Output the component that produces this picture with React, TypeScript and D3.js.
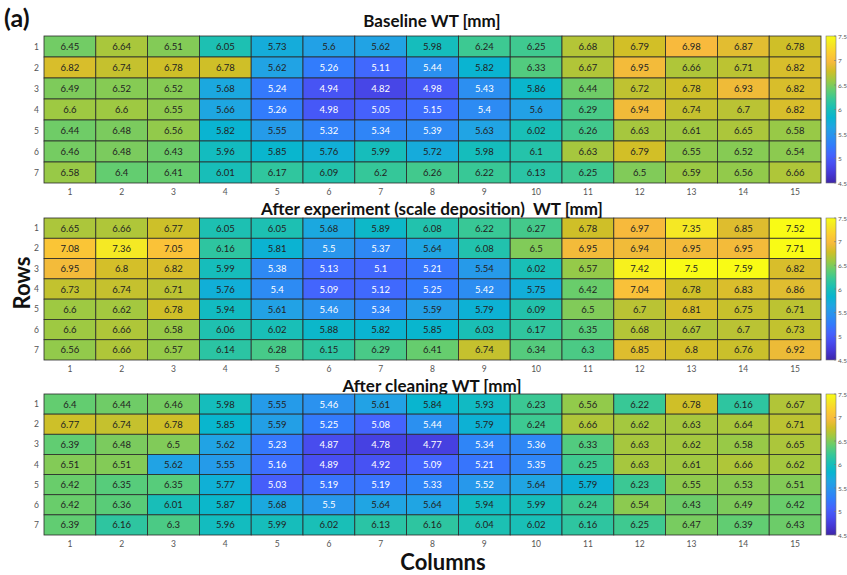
import React from "react";
import * as d3 from "d3";

const columns = d3.range(1, 16);
const rows = d3.range(1, 8);
const colorTicks = [7.5, 7, 6.5, 6, 5.5, 5, 4.5];

const baseline = [
  [6.45, 6.64, 6.51, 6.05, 5.73, 5.6, 5.62, 5.98, 6.24, 6.25, 6.68, 6.79, 6.98, 6.87, 6.78],
  [6.82, 6.74, 6.78, 6.78, 5.62, 5.26, 5.11, 5.44, 5.82, 6.33, 6.67, 6.95, 6.66, 6.71, 6.82],
  [6.49, 6.52, 6.52, 5.68, 5.24, 4.94, 4.82, 4.98, 5.43, 5.86, 6.44, 6.72, 6.78, 6.93, 6.82],
  [6.6, 6.6, 6.55, 5.66, 5.26, 4.98, 5.05, 5.15, 5.4, 5.6, 6.29, 6.94, 6.74, 6.7, 6.82],
  [6.44, 6.48, 6.56, 5.82, 5.55, 5.32, 5.34, 5.39, 5.63, 6.02, 6.26, 6.63, 6.61, 6.65, 6.58],
  [6.46, 6.48, 6.43, 5.96, 5.85, 5.76, 5.99, 5.72, 5.98, 6.1, 6.63, 6.79, 6.55, 6.52, 6.54],
  [6.58, 6.4, 6.41, 6.01, 6.17, 6.09, 6.2, 6.26, 6.22, 6.13, 6.25, 6.5, 6.59, 6.56, 6.66],
];

const afterExperiment = [
  [6.65, 6.66, 6.77, 6.05, 6.05, 5.68, 5.89, 6.08, 6.22, 6.27, 6.78, 6.97, 7.35, 6.85, 7.52],
  [7.08, 7.36, 7.05, 6.16, 5.81, 5.5, 5.37, 5.64, 6.08, 6.5, 6.95, 6.94, 6.95, 6.95, 7.71],
  [6.95, 6.8, 6.82, 5.99, 5.38, 5.13, 5.1, 5.21, 5.54, 6.02, 6.57, 7.42, 7.5, 7.59, 6.82],
  [6.73, 6.74, 6.71, 5.76, 5.4, 5.09, 5.12, 5.25, 5.42, 5.75, 6.42, 7.04, 6.78, 6.83, 6.86],
  [6.6, 6.62, 6.78, 5.94, 5.61, 5.46, 5.34, 5.59, 5.79, 6.09, 6.5, 6.7, 6.81, 6.75, 6.71],
  [6.6, 6.66, 6.58, 6.06, 6.02, 5.88, 5.82, 5.85, 6.03, 6.17, 6.35, 6.68, 6.67, 6.7, 6.73],
  [6.56, 6.66, 6.57, 6.14, 6.28, 6.15, 6.29, 6.41, 6.74, 6.34, 6.3, 6.85, 6.8, 6.76, 6.92],
];

const afterCleaning = [
  [6.4, 6.44, 6.46, 5.98, 5.55, 5.46, 5.61, 5.84, 5.93, 6.23, 6.56, 6.22, 6.78, 6.16, 6.67],
  [6.77, 6.74, 6.78, 5.85, 5.59, 5.25, 5.08, 5.44, 5.79, 6.24, 6.66, 6.62, 6.63, 6.64, 6.71],
  [6.39, 6.48, 6.5, 5.62, 5.23, 4.87, 4.78, 4.77, 5.34, 5.36, 6.33, 6.63, 6.62, 6.58, 6.65],
  [6.51, 6.51, 5.62, 5.55, 5.16, 4.89, 4.92, 5.09, 5.21, 5.35, 6.25, 6.63, 6.61, 6.66, 6.62],
  [6.42, 6.35, 6.35, 5.77, 5.03, 5.19, 5.19, 5.33, 5.52, 5.64, 5.79, 6.23, 6.55, 6.53, 6.51],
  [6.42, 6.36, 6.01, 5.87, 5.68, 5.5, 5.64, 5.64, 5.94, 5.99, 6.24, 6.54, 6.43, 6.49, 6.42],
  [6.39, 6.16, 6.3, 5.96, 5.99, 6.02, 6.13, 6.16, 6.04, 6.02, 6.16, 6.25, 6.47, 6.39, 6.43],
];

// MATLAB parula, sampled every 4th of 64 entries
const parula = [
  "#3e26a8", "#4537d5", "#484df0", "#4563fd", "#327cfc", "#2b91ef", "#20a5e3", "#08b5d0",
  "#19bfb6", "#37c897", "#64cd6f", "#9dc943", "#d1bf27", "#f8ba3d", "#fccf30", "#f5e924", "#f9fb15",
];
const parulaIdx = [0, 4, 8, 12, 16, 20, 24, 28, 32, 36, 40, 44, 48, 52, 56, 60, 63];
const cMin = 4.5;
const cMax = 7.5;
const color = d3
  .scaleLinear<string>()
  .domain(parulaIdx.map((i) => cMin + ((cMax - cMin) * i) / 63))
  .range(parula)
  .clamp(true);

const panels = [
  { title: "Baseline WT [mm]", data: baseline, top: 36, height: 147, titleY: 27 },
  { title: "After experiment (scale deposition)  WT [mm]", data: afterExperiment, top: 218, height: 142, titleY: 215 },
  { title: "After cleaning WT [mm]", data: afterCleaning, top: 394, height: 141, titleY: 392 },
];

const left = 44;
const right = 821;
const cbX = 826;
const cbW = 10;

const Heatmap = ({ p, idx }) => {
  const x = d3.scaleBand<number>().domain(columns).range([left, right]);
  const y = d3.scaleBand<number>().domain(rows).range([p.top, p.top + p.height]);
  const cb = d3.scaleLinear().domain([cMin, cMax]).range([p.top + p.height, p.top]);
  const gradId = "grad" + idx;
  return (
    <g>
      <text x={432} y={p.titleY} textAnchor="middle" fontSize={17} fontWeight="bold" fill="#111" style={{ whiteSpace: "pre" }}>
        {p.title}
      </text>
      {p.data.map((row, ri) =>
        row.map((v, ci) => (
          <g key={ri + "-" + ci}>
            <rect
              x={x(columns[ci])}
              y={y(rows[ri])}
              width={x.bandwidth()}
              height={y.bandwidth()}
              fill={color(v)}
              stroke="#2a2a2a"
              strokeWidth={0.8}
            />
            <text
              x={x(columns[ci])! + x.bandwidth() / 2}
              y={y(rows[ri])! + y.bandwidth() / 2 + 3.5}
              textAnchor="middle"
              fontSize={9.5}
              fill={v < 5.53 ? "#fff" : "#222"}
            >
              {v}
            </text>
          </g>
        ))
      )}
      {rows.map((r) => (
        <text key={r} x={39} y={y(r)! + y.bandwidth() / 2 + 3} textAnchor="end" fontSize={8.5} fill="#555">
          {r}
        </text>
      ))}
      {columns.map((c) => (
        <text key={c} x={x(c)! + x.bandwidth() / 2} y={p.top + p.height + 12} textAnchor="middle" fontSize={8.5} fill="#555">
          {c}
        </text>
      ))}
      <defs>
        <linearGradient id={gradId} x1="0" y1="1" x2="0" y2="0">
          {parula.map((s, i) => (
            <stop key={i} offset={parulaIdx[i] / 63} stopColor={s} />
          ))}
        </linearGradient>
      </defs>
      <rect x={cbX} y={p.top} width={cbW} height={p.height} fill={`url(#${gradId})`} stroke="#777" strokeWidth={0.6} />
      {colorTicks.map((t) => (
        <g key={t}>
          <line x1={cbX + cbW} x2={cbX + cbW - 2} y1={cb(t)} y2={cb(t)} stroke="#777" strokeWidth={0.6} />
          <text x={cbX + cbW + 2} y={cb(t) + 2.5} fontSize={6.5} fill="#555">
            {t}
          </text>
        </g>
      ))}
    </g>
  );
};

export default function App() {
  return (
    <svg width={847} height={575} style={{ position: "absolute", left: 0, top: 0, background: "#fff" }} fontFamily="Lato, 'Open Sans', sans-serif">
      <rect width={847} height={575} fill="#fff" />
      <text x={4} y={27} fontSize={25} fontWeight="bold" fill="#111">
        (a)
      </text>
      {panels.map((p, i) => (
        <Heatmap key={i} p={p} idx={i} />
      ))}
      <text transform="translate(30,283) rotate(-90)" textAnchor="middle" fontSize={22} fontWeight="bold" fill="#111">
        Rows
      </text>
      <text x={443} y={570} textAnchor="middle" fontSize={22} fontWeight="bold" fill="#111">
        Columns
      </text>
    </svg>
  );
}
